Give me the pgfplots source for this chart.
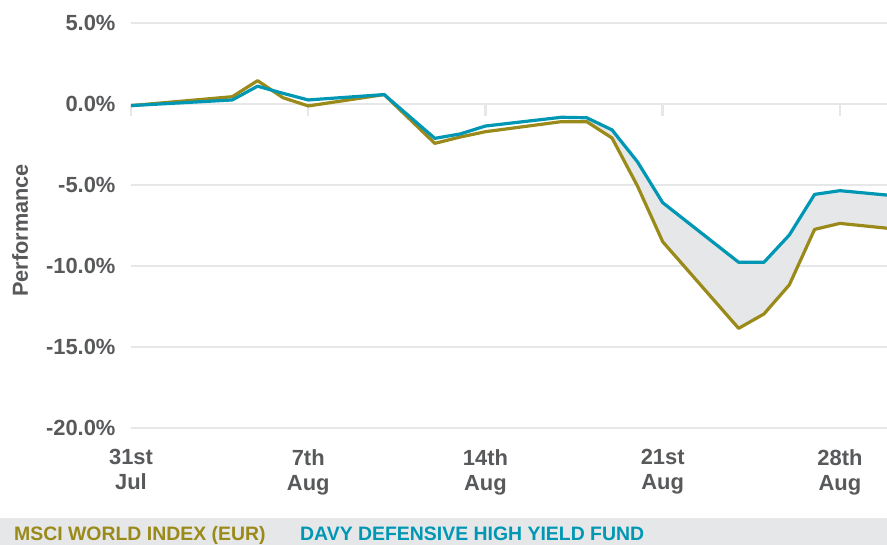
\documentclass[border=0pt]{standalone}
\usepackage{fontspec}
\setmainfont{Liberation Sans}
\usepackage{pgfplots}
\usepackage{pgfplotstable}
\pgfplotsset{compat=1.18}
\usepgfplotslibrary{fillbetween}
\definecolor{olivec}{HTML}{9A8A1A}
\definecolor{tealc}{HTML}{0097B4}
\definecolor{gridc}{HTML}{E6E7E8}
\definecolor{fillc}{HTML}{E6E7E8}
\definecolor{labc}{HTML}{58595B}

\pgfplotstableread{
d msci davy
0 -0.10 -0.10
4 0.45 0.25
5 1.44 1.10
6 0.39 0.66
7 -0.12 0.25
10 0.58 0.58
12 -2.43 -2.12
13 -2.04 -1.85
14 -1.71 -1.36
17 -1.09 -0.82
18 -1.09 -0.85
19 -2.10 -1.60
20 -5.05 -3.56
21 -8.50 -6.09
24 -13.85 -9.77
25 -12.96 -9.77
26 -11.17 -8.09
27 -7.74 -5.58
28 -7.37 -5.35
31 -7.85 -5.79
}\data

\begin{document}
\begin{tikzpicture}
\begin{axis}[
  set layers,
  scale only axis, width=756bp, height=405bp,
  xmin=0, xmax=29.86, ymin=-20, ymax=5,
  axis line style={draw=none},
  tick style={draw=none},
  ytick={-20,-15,-10,-5,0,5},
  yticklabels={-20.0\%,-15.0\%,-10.0\%,-5.0\%,0.0\%,5.0\%},
  xtick={0,7,14,21,28},
  xticklabels={31st\\Jul,7th\\Aug,14th\\Aug,21st\\Aug,28th\\Aug},
  ymajorgrids, grid style={gridc, line width=2.5bp},
  ticklabel style={font=\fontsize{22}{25}\selectfont\bfseries, text=labc},
  xticklabel style={align=center, yshift=-18bp},
  yticklabel style={xshift=-12bp},
  ylabel={Performance},
  ylabel style={at={(axis description cs:-0.1468,0.488)}, anchor=center, font=\fontsize{21.8}{24}\selectfont\bfseries, text=labc},
  clip mode=individual,
]
\pgfplotsinvokeforeach{0,7,14,21,28}{
  \draw[gridc, line width=2.5bp] (axis cs:#1,0) -- ([yshift=-12bp]axis cs:#1,0);
}
\addplot[name path=A, olivec, line width=3.2bp, line join=round] table[x=d, y=msci] {\data};
\addplot[name path=B, tealc, line width=3.2bp, line join=round] table[x=d, y=davy] {\data};
\addplot[fillc] fill between[of=A and B, soft clip={domain=18:31}];
\end{axis}
\fill[fillc] ([shift={(-131bp,-117bp)}]current axis.south west) rectangle ([shift={(0bp,-90bp)}]current axis.south east);
\node[anchor=base west, inner sep=0pt, text=olivec, font=\fontsize{19.5}{23}\selectfont\bfseries] at ([shift={(-117bp,-112.5bp)}]current axis.south west) {MSCI WORLD INDEX (EUR)};
\node[anchor=base west, inner sep=0pt, text=tealc, font=\fontsize{19.5}{23}\selectfont\bfseries] at ([shift={(169bp,-112.5bp)}]current axis.south west) {DAVY DEFENSIVE HIGH YIELD FUND};
\pgfresetboundingbox
\path ([shift={(-131bp,-117bp)}]current axis.south west) rectangle ([shift={(0bp,23bp)}]current axis.north east);
\end{tikzpicture}
\end{document}
